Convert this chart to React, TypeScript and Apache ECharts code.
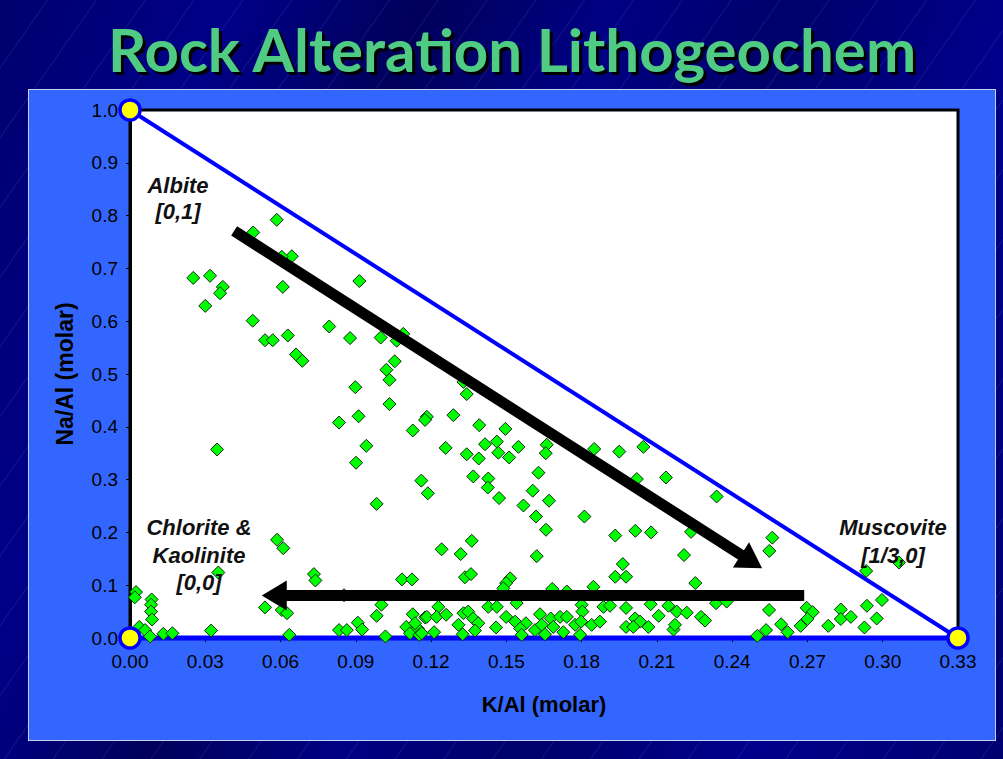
import React, { useEffect, useRef } from "react";
import * as echarts from "echarts";

// K/Al (molar) values of samples
const kAl = [
  0.0585, 0.0491, 0.0645, 0.0605, 0.0252, 0.0319, 0.0370, 0.0359, 0.0300, 0.0609,
  0.0914, 0.0489, 0.0538, 0.0569, 0.0629, 0.0662, 0.0687, 0.0794, 0.0877, 0.0999,
  0.1089, 0.1063, 0.1055, 0.1022, 0.1034, 0.0898, 0.1034, 0.0911, 0.0833, 0.1183,
  0.1176, 0.1127, 0.0942, 0.0901, 0.1161, 0.1187, 0.0983, 0.0347, 0.0586, 0.0611,
  0.0352, 0.0733, 0.0739, 0.1084, 0.1124, 0.0024, 0.0019, 0.0086, 0.0084, 0.0084,
  0.0088, 0.0538, 0.0605, 0.0626, 0.0853, 0.1002, 0.0983, 0.1127, 0.1176, 0.0037,
  0.0060, 0.0080, 0.0133, 0.0169, 0.0323, 0.0635, 0.0833, 0.0864, 0.0908, 0.0925,
  0.1018, 0.1101, 0.1116, 0.1147, 0.1153, 0.1136, 0.1329, 0.1342, 0.1289, 0.1392,
  0.1496, 0.1258, 0.1415, 0.1462, 0.1548, 0.1468, 0.1342, 0.1390, 0.1511, 0.1661,
  0.1657, 0.1850, 0.1950, 0.2046, 0.1628, 0.1368, 0.1428, 0.2136, 0.2020, 0.1426,
  0.1471, 0.1605, 0.1670, 0.1568, 0.1618, 0.1658, 0.1811, 0.2338, 0.1934, 0.2014,
  0.2077, 0.2236, 0.1242, 0.1318, 0.1362, 0.1621, 0.1964, 0.1934, 0.1977, 0.2208,
  0.2253, 0.1335, 0.1359, 0.1515, 0.1499, 0.1488, 0.1683, 0.1741, 0.1847, 0.1183,
  0.1229, 0.1222, 0.1260, 0.1212, 0.1163, 0.1329, 0.1348, 0.1368, 0.1388, 0.1309,
  0.1326, 0.1375, 0.1428, 0.1462, 0.1499, 0.1459, 0.1535, 0.1541, 0.1578, 0.1555,
  0.1561, 0.1614, 0.1634, 0.1641, 0.1677, 0.1687, 0.1654, 0.1714, 0.1741, 0.1727,
  0.1774, 0.1794, 0.1800, 0.1803, 0.1798, 0.1840, 0.1873, 0.1887, 0.1913, 0.1977,
  0.1977, 0.2013, 0.2033, 0.2006, 0.2066, 0.2075, 0.2107, 0.2146, 0.2179, 0.2219,
  0.2166, 0.2172, 0.2276, 0.2292, 0.2336, 0.2560, 0.2548, 0.3065, 0.2934, 0.2997,
  0.2378, 0.2547, 0.2535, 0.2500, 0.2595, 0.2621, 0.2697, 0.2721, 0.2700, 0.2673,
  0.2783, 0.2833, 0.2833, 0.2873, 0.2937, 0.2976, 0.2927,
];

// Na/Al (molar) values of samples
const naAl = [
  0.792, 0.768, 0.723, 0.722, 0.682, 0.686, 0.665, 0.653, 0.629, 0.665,
  0.676, 0.601, 0.564, 0.564, 0.573, 0.537, 0.525, 0.590, 0.568, 0.569,
  0.576, 0.563, 0.524, 0.508, 0.489, 0.475, 0.443, 0.420, 0.408, 0.419,
  0.413, 0.393, 0.364, 0.332, 0.298, 0.274, 0.254, 0.357, 0.186, 0.170,
  0.124, 0.121, 0.109, 0.111, 0.111, 0.087, 0.077, 0.073, 0.063, 0.050,
  0.035, 0.058, 0.053, 0.047, 0.081, 0.063, 0.042, 0.045, 0.039, 0.021,
  0.015, 0.003, 0.008, 0.009, 0.014, 0.006, 0.015, 0.015, 0.029, 0.016,
  0.003, 0.021, 0.009, 0.018, 0.006, 0.028, 0.485, 0.462, 0.422, 0.403,
  0.396, 0.360, 0.367, 0.372, 0.362, 0.351, 0.348, 0.340, 0.342, 0.366,
  0.350, 0.358, 0.353, 0.362, 0.313, 0.306, 0.302, 0.304, 0.301, 0.285,
  0.265, 0.279, 0.260, 0.251, 0.230, 0.205, 0.230, 0.268, 0.194, 0.203,
  0.200, 0.201, 0.168, 0.159, 0.184, 0.155, 0.140, 0.116, 0.116, 0.157,
  0.104, 0.115, 0.121, 0.113, 0.104, 0.094, 0.093, 0.088, 0.097, 0.040,
  0.059, 0.040, 0.044, 0.011, 0.009, 0.047, 0.050, 0.037, 0.028, 0.025,
  0.007, 0.014, 0.059, 0.059, 0.040, 0.020, 0.031, 0.066, 0.028, 0.018,
  0.006, 0.015, 0.045, 0.025, 0.037, 0.021, 0.007, 0.040, 0.040, 0.011,
  0.025, 0.006, 0.063, 0.050, 0.031, 0.025, 0.031, 0.059, 0.061, 0.057,
  0.021, 0.037, 0.031, 0.021, 0.021, 0.064, 0.042, 0.061, 0.050, 0.048,
  0.016, 0.025, 0.040, 0.033, 0.066, 0.190, 0.165, 0.143, 0.127, 0.072,
  0.069, 0.053, 0.015, 0.004, 0.026, 0.011, 0.057, 0.049, 0.036, 0.023,
  0.023, 0.054, 0.036, 0.040, 0.061, 0.037, 0.020,
];

// End-member compositions [K/Al, Na/Al]
const endMemberNames = ["Albite", "Chlorite & Kaolinite", "Muscovite"];
const endMemberK = [0, 0, 0.33];
const endMemberNa = [1, 0, 0];

// Alteration trend arrows [K/Al, Na/Al] from -> to
const arrowFrom = [
  [0.0415, 0.771],
  [0.2687, 0.0805],
];
const arrowTo = [
  [0.2477, 0.1447],
  [0.0575, 0.0805],
];

const xTicks = { min: 0, max: 0.33, interval: 0.03 };
const yTicks = { min: 0, max: 1, interval: 0.1 };

const titleText = "Rock Alteration Lithogeochem";
const titleColor = "#4FCB84";

export default function App() {
  const ref = useRef<HTMLDivElement>(null);

  useEffect(() => {
    if (!ref.current) return;
    const chart = echarts.init(ref.current, undefined, { renderer: "svg" });
    const samples = kAl.map((k, i) => [k, naAl[i]]);
    const triangle = [
      [endMemberK[0], endMemberNa[0]],
      [endMemberK[2], endMemberNa[2]],
    ];
    const bottom = [
      [endMemberK[2], endMemberNa[2]],
      [endMemberK[1], endMemberNa[1]],
    ];
    const corners = endMemberK.map((k, i) => ({ name: endMemberNames[i], value: [k, endMemberNa[i]] }));
    const labelFont = 'italic bold 22px "Liberation Sans", Arial, sans-serif';
    const titleFont = 'bold 60px "Comic Sans MS", Lato, sans-serif';
    const axisFont = '"Liberation Sans", Arial, sans-serif';
    const lbl = (text: string, x: number, y: number) => ({
      type: "text",
      x,
      y,
      z: 10,
      style: { text, font: labelFont, fill: "#111", textAlign: "center", textVerticalAlign: "middle" },
    });

    const option: any = {
      animation: false,
      backgroundColor: "transparent",
      grid: {
        left: 130,
        right: 45,
        top: 110,
        bottom: 121,
        show: true,
        backgroundColor: "#ffffff",
        borderColor: "#000000",
        borderWidth: 3,
      },
      xAxis: {
        type: "value",
        min: xTicks.min,
        max: xTicks.max,
        interval: xTicks.interval,
        name: "K/Al (molar)",
        nameLocation: "middle",
        nameGap: 55,
        nameTextStyle: { fontFamily: axisFont, fontWeight: "bold", fontSize: 22, color: "#000" },
        axisLine: { show: true, onZero: false, lineStyle: { color: "#000", width: 3 } },
        axisTick: { show: true, length: 4, lineStyle: { color: "#000", width: 1 } },
        axisLabel: {
          fontFamily: axisFont,
          fontSize: 19,
          color: "#000",
          margin: 14,
          showMaxLabel: true,
          formatter: (v: number) => v.toFixed(2),
        },
        splitLine: { show: false },
      },
      yAxis: {
        type: "value",
        min: yTicks.min,
        max: yTicks.max,
        interval: yTicks.interval,
        name: "Na/Al (molar)",
        nameLocation: "middle",
        nameGap: 54,
        nameTextStyle: { fontFamily: axisFont, fontWeight: "bold", fontSize: 23, color: "#000" },
        axisLine: { show: true, onZero: false, lineStyle: { color: "#000", width: 3 } },
        axisTick: { show: true, length: 4, lineStyle: { color: "#000", width: 1 } },
        axisLabel: {
          fontFamily: axisFont,
          fontSize: 19,
          color: "#000",
          margin: 12,
          formatter: (v: number) => v.toFixed(1),
        },
        splitLine: { show: false },
      },
      series: [
        {
          type: "line",
          data: triangle,
          symbol: "none",
          clip: false,
          z: 1,
          lineStyle: { color: "#0000FF", width: 4 },
          silent: true,
        },
        {
          type: "line",
          data: bottom,
          symbol: "none",
          clip: false,
          z: 1,
          lineStyle: { color: "#0000FF", width: 5 },
          silent: true,
        },
        {
          type: "scatter",
          data: samples,
          symbol: "diamond",
          symbolSize: 13,
          z: 3,
          itemStyle: { color: "#00FF00", borderColor: "#0B2A0B", borderWidth: 1, opacity: 1 },
        },
        {
          type: "scatter",
          data: [],
          z: 5,
          markLine: {
            silent: true,
            symbol: ["none", "triangle"],
            symbolSize: [30, 25],
            label: { show: false },
            lineStyle: { color: "#000", width: 11, type: "solid", opacity: 1 },
            itemStyle: { color: "#000" },
            data: arrowFrom.map((f, i) => [
              { coord: f, symbol: "none" },
              { coord: arrowTo[i], symbol: "triangle" },
            ]),
          },
        },
        {
          type: "scatter",
          data: corners,
          symbol: "circle",
          symbolSize: 20,
          clip: false,
          z: 6,
          itemStyle: { color: "#FFFF00", borderColor: "#0000FF", borderWidth: 3.5, opacity: 1 },
        },
      ],
      graphic: [
        {
          type: "text",
          x: 512,
          y: 49,
          z: 10,
          style: {
            text: titleText,
            font: titleFont,
            fill: titleColor,
            textAlign: "center",
            textVerticalAlign: "middle",
          },
        },
        lbl("Albite", 178, 185),
        lbl("[0,1]", 178, 211),
        lbl("Chlorite &", 199, 527),
        lbl("Kaolinite", 199, 555),
        lbl("[0,0]", 199, 582),
        lbl("Muscovite", 893, 527),
        lbl("[1/3,0]", 893, 555),
      ],
    };
    chart.setOption(option);
    return () => chart.dispose();
  }, []);

  const shadowCss =
    '.rock-chart text[fill="#4FCB84"], .rock-chart text[fill="#4fcb84"], .rock-chart text[fill="rgb(79,203,132)"], .rock-chart text[fill="rgb(79, 203, 132)"] { text-shadow: 3px 3px 0 #000; }';

  return (
    <div
      style={{
        position: "fixed",
        left: 0,
        top: 0,
        width: 1003,
        height: 759,
        overflow: "hidden",
        background:
          "repeating-linear-gradient(125deg, rgba(255,255,255,0) 0px, rgba(255,255,255,0) 38px, rgba(200,200,255,0.10) 39px, rgba(255,255,255,0) 40px), linear-gradient(110deg, #00006e 0%, #000088 18%, #00005a 33%, #000084 48%, #00006a 62%, #00008c 80%, #000070 100%)",
      }}
    >
      <style>{shadowCss}</style>
      <div
        style={{
          position: "absolute",
          left: 28,
          top: 89,
          width: 966,
          height: 650,
          background: "#3366FF",
          border: "1px solid #C8D0F0",
        }}
      />
      <div
        ref={ref}
        className="rock-chart"
        style={{ position: "absolute", left: 0, top: 0, width: 1003, height: 759 }}
      />
    </div>
  );
}
